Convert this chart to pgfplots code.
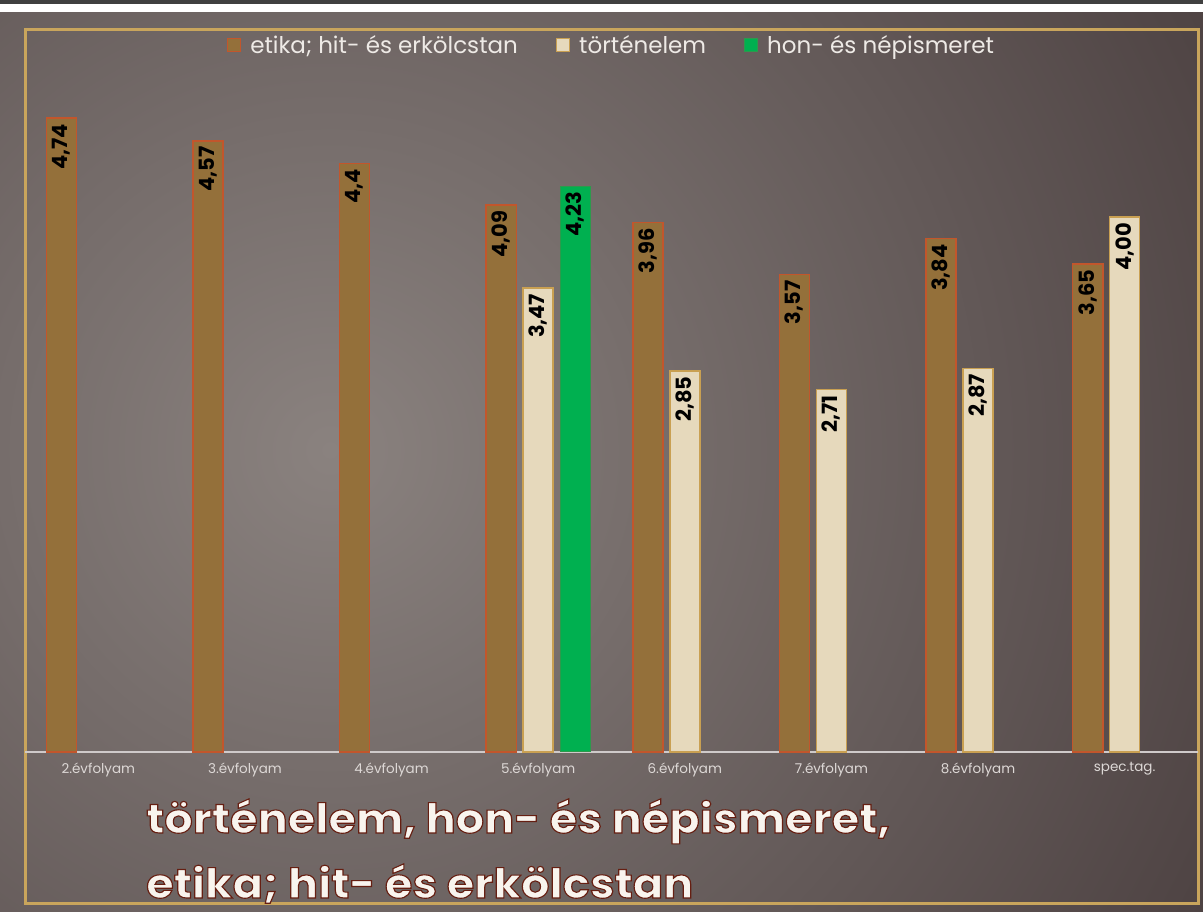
\documentclass[border=0pt]{standalone}
\usepackage{fontspec}
\setmainfont{Poppins}
\usepackage{pgfplots}
\pgfplotsset{compat=1.18}
\usepackage{pgfplotstable}
\definecolor{bgdark}{HTML}{3B2F30}
\definecolor{bglight}{HTML}{8A827F}
\definecolor{frame}{HTML}{C9A55C}
\definecolor{etika}{HTML}{94703A}
\definecolor{etikaedge}{HTML}{C2562C}
\definecolor{tort}{HTML}{E6D9BC}
\definecolor{tortedge}{HTML}{C9A052}
\definecolor{hon}{HTML}{00B050}
\definecolor{honedge}{HTML}{2C9A4C}
\definecolor{axisgray}{HTML}{CFCACA}
\definecolor{ticktext}{HTML}{DDD8D6}
\definecolor{legtext}{HTML}{EEEAE6}
\definecolor{titletext}{HTML}{F8F4EE}

\pgfplotstableread{
x y lab
0 4.74 4,74
1 4.57 4,57
2 4.40 4,4
3 4.09 4,09
4 3.96 3,96
5 3.57 3,57
6 3.84 3,84
7 3.65 3,65
}\etika
\pgfplotstableread{
x y lab
3 3.47 3,47
4 2.85 2,85
5 2.71 2,71
6 2.87 2,87
7 4.00 4,00
}\tort
\pgfplotstableread{
x y lab
3 4.23 4,23
}\hon

\pgfplotsset{
  sqleg/.style={legend image code/.code={\filldraw[##1, line width=1.2pt] (0pt,-6pt) rectangle (13pt,7pt); \path (20pt,0pt);}},
}

% white title text with a thin dark red outline (fill + stroke render mode)
\newcommand{\outl}[3]{%
  \node[anchor=base west, inner sep=0pt, xscale=1.09, text=titletext, font=\bfseries\fontsize{41}{46}\selectfont]
    at (#1pt,#2pt) {\special{pdf:literal direct q 2 Tr 1.1 w 0.40 0.12 0.07 RG}#3\special{pdf:literal direct Q}};}

\begin{document}
\begin{tikzpicture}
\useasboundingbox (0pt,0pt) rectangle (1203pt,912pt);
\begin{scope}[x=1pt,y=1pt]
\fill[bgdark] (0,0) rectangle (1203,912);
\begin{scope}
  \clip (0,0) rectangle (1203,900);
  \shade[inner color=bglight, outer color=bgdark] (330,462) circle (1300);
\end{scope}
\fill[black!75] (0,908) rectangle (1203,912);
\fill[white] (0,900) rectangle (1203,908);
\draw[frame, line width=3pt] (25,8) rectangle (1198,882);
\end{scope}

\begin{axis}[
  at={(25pt,160pt)}, anchor=south west,
  width=1173pt, height=722pt, scale only axis,
  xmin=-0.5, xmax=7.5, ymin=0, ymax=5.4,
  axis x line=bottom, axis y line=none,
  axis line style={-, draw=axisgray, line width=2pt},
  xtick={0,...,7},
  xticklabels={2.évfolyam,3.évfolyam,4.évfolyam,5.évfolyam,6.évfolyam,7.évfolyam,8.évfolyam,spec.tag.},
  major tick length=0pt,
  xticklabel style={font=\fontsize{13.5}{15}\selectfont, text=ticktext, yshift=-7pt},
  ybar, bar width=0.205,
  point meta=explicit symbolic,
  nodes near coords,
  every node near coord/.append style={rotate=90, anchor=east, inner sep=5pt,
    font=\bfseries\fontsize{21}{23}\selectfont, text=black},
  legend columns=3,
  legend style={at={(0.5,0.979)}, anchor=center, draw=none, fill=none,
    font=\fontsize{23}{25}\selectfont, text=legtext,
    /tikz/every even column/.append style={column sep=36pt}},
  clip=false,
]
\addplot[fill=etika, draw=etikaedge, line width=1.5pt, bar shift=-0.252, sqleg]
  table[x=x, y=y, meta=lab] {\etika};
\addlegendentry{etika; hit- és erkölcstan}
\addplot[fill=tort, draw=tortedge, line width=1.5pt, bar shift=0, sqleg]
  table[x=x, y=y, meta=lab] {\tort};
\addlegendentry{történelem}
\addplot[fill=hon, draw=honedge, line width=1pt, bar shift=0.252, sqleg]
  table[x=x, y=y, meta=lab] {\hon};
\addlegendentry{hon- és népismeret}
\end{axis}

\outl{146}{79}{történelem, hon- és népismeret,}
\outl{146}{14}{etika; hit- és erkölcstan}
\end{tikzpicture}
\end{document}
